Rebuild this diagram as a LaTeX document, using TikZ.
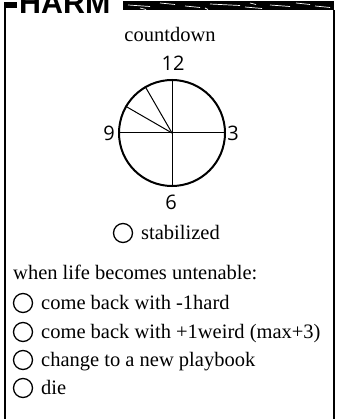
\documentclass[tikz,border=0pt]{standalone}
\usepackage{fontspec}
\setmainfont{Liberation Serif}
\newfontfamily\numfont{Open Sans}
\newfontfamily\bannerfont{Liberation Sans}
\begin{document}
\begin{tikzpicture}[x=1pt,y=-1pt,
  txt/.style={font=\fontsize{20.5}{24}\selectfont, inner sep=0pt},
  num/.style={font=\numfont\fontsize{20}{24}\selectfont, inner sep=0pt},
  tick/.style={draw, circle, line width=1.3pt, minimum size=19pt, inner sep=0pt},
  border/.style={line width=1.8pt},
  spoke/.style={line width=1pt}]
\useasboundingbox (0,0) rectangle (337,419);
\begin{scope}
\clip (0,0) rectangle (337,419);
% banner
\node[anchor=base west, inner sep=0pt, font=\bannerfont\bfseries\fontsize{31}{31}\selectfont, xscale=0.98] (harm) at (19,14) {HARM};
\fill (4,2) rectangle (17,8);
\fill (123,1) rectangle (334,10);
\foreach \a/\b/\c in {128/150/5,160/175/3,185/200/6,210/240/4,245/262/7,270/290/5,296/310/3,315/330/6,140/146/8,205/208/8,250/256/3}
  \draw[white, line width=0.7pt] (\a,\c) -- (\b,\c+1.5);
% frame
\draw[border] (5,4) -- (5,421);
\draw[border] (334.3,10) -- (334.3,421);
\end{scope}
% countdown
\node[txt, anchor=base] (cd) at (170,42) {countdown};
\coordinate (c) at (172,133);
\node[draw, circle, line width=2pt, minimum size=106pt, inner sep=0pt] (clock) at (c) {};
\draw[spoke] (clock.west) -- (clock.east);
\draw[spoke] (clock.north) -- (clock.south);
\draw[spoke] (c) -- (clock.120);
\draw[spoke] (c) -- (clock.150);
\node[num] (n12) at (173,63) {12};
\node[num] (n3) at (233,133) {3};
\node[num] (n6) at (171,202) {6};
\node[num] (n9) at (109,133) {9};
% stabilized
\node[tick] (s0) at (123,233) {};
\node[txt, anchor=base west] (st) at (141,239) {stabilized};
% untenable
\node[txt, anchor=base west] (wl) at (13,279) {when life becomes untenable:};
\node[tick] (o1) at (23,303) {};
\node[txt, anchor=base west] (t1) at (41,309) {come back with -1hard};
\node[tick] (o2) at (23,332) {};
\node[txt, anchor=base west] (t2) at (41,338) {come back with +1weird (max+3)};
\node[tick] (o3) at (23,360) {};
\node[txt, anchor=base west] (t3) at (41,366) {change to a new playbook};
\node[tick] (o4) at (23,388) {};
\node[txt, anchor=base west] (t4) at (41,394) {die};
\end{tikzpicture}
\end{document}
